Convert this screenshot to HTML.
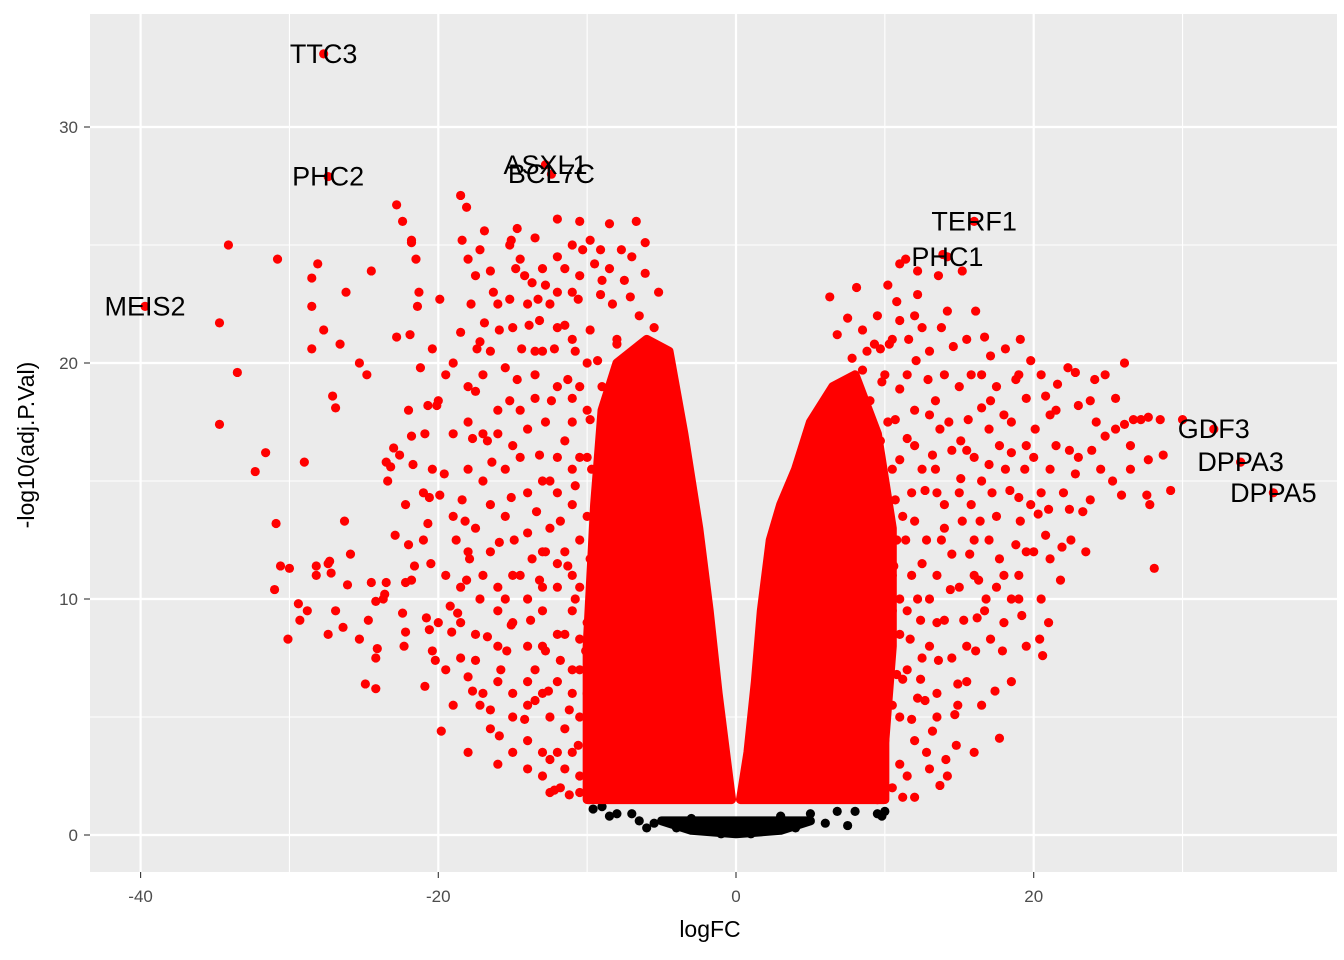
<!DOCTYPE html>
<html><head><meta charset="utf-8"><style>
body{margin:0;background:#fff}
svg{display:block;font-family:"Liberation Sans",Arial,sans-serif}
</style></head><body>
<svg id="chart" width="1344" height="960">
<rect x="90" y="14" width="1247" height="858" fill="#ebebeb"/>
<g id="grid"></g><g id="marks"></g><g id="labels"></g><g id="axes"></g>
<text x="710" y="937" text-anchor="middle" font-size="23" fill="#000">logFC</text>
<text transform="translate(34,445) rotate(-90)" text-anchor="middle" font-size="23" fill="#000">-log10(adj.P.Val)</text>
</svg>
<script>
const xTicks=[-40,-20,0,20];
const xMinor=[-30,-10,10,30];
const yTicks=[0,10,20,30];
const yMinor=[5,15,25];
const leftCoreX=[-0.3,-10,-10,-9.5,-9,-8,-6,-4.5,-3.5,-2.5,-1.8,-1.2,-0.7];
const leftCoreY=[1.5,1.5,8,14,18,20,21,20.5,17,13,9.5,6,3.5];
const rightCoreX=[0.3,0.8,1.3,1.7,2.3,3,4,5,6.5,8,9.5,10.5,10.5,10,10];
const rightCoreY=[1.5,3.5,6.5,9.5,12.5,14,15.5,17.5,19,19.5,17,13,8,4,1.5];
const nsCoreX=[-5,5,3,0,-3];
const nsCoreY=[0.6,0.6,0.2,0.05,0.2];
const nsPoints=[[-9.6,1.1],[-8.5,0.8],[-8,0.9],[-6.5,0.6],[-6,0.3],[-5.5,0.5],[6,0.5],[7.5,0.4],[9.5,0.9],[10,1.0],[9.8,0.8],[8,1.0],[-4,0.3],[4,0.3],[-1,0.05],[1,0.05],[-7,0.9],[-3,0.7],[3,0.8],[5,0.9],[-2,0.4],[2,0.3],[6.8,1.0],[-9,1.2]];
const sigLeft=[[-34.1,25.0],[-30.8,24.4],[-34.7,21.7],[-33.5,19.6],[-34.7,17.4],[-31.6,16.2],[-32.3,15.4],[-30.9,13.2],[-31.0,10.4],[-30.6,11.4],[-30.0,11.3],[-29.4,9.8],[-30.1,8.3],[-29.3,9.1],[-28.8,9.5],[-29.0,15.8],[-28.5,20.6],[-28.5,23.6],[-28.1,24.2],[-28.5,22.4],[-27.7,21.4],[-27.1,18.6],[-26.9,18.1],[-26.6,20.8],[-26.2,23.0],[-27.4,11.5],[-28.2,11.0],[-28.2,11.4],[-27.2,11.1],[-27.3,11.6],[-26.9,9.5],[-27.4,8.5],[-26.4,8.8],[-26.1,10.6],[-25.9,11.9],[-26.3,13.3],[-25.3,20.0],[-24.8,19.5],[-25.3,8.3],[-24.9,6.4],[-24.2,6.2],[-24.2,7.5],[-24.1,7.9],[-24.7,9.1],[-24.5,10.7],[-24.2,9.9],[-23.6,10.2],[-23.7,10.0],[-23.5,10.7],[-24.5,23.9],[-22.8,26.7],[-22.4,26.0],[-21.8,25.2],[-21.8,25.1],[-21.5,24.4],[-21.3,23.0],[-21.4,22.4],[-21.9,21.2],[-22.8,21.1],[-23.0,16.4],[-23.2,15.6],[-23.5,15.8],[-23.4,15.0],[-22.6,16.1],[-22.9,12.7],[-22.0,12.3],[-21.8,16.9],[-21.7,15.7],[-22.2,14.0],[-22.2,10.7],[-21.8,10.8],[-22.4,9.4],[-22.2,8.6],[-22.3,8.0],[-21.6,11.4],[-20.9,6.3],[-20.8,9.2],[-20.6,8.7],[-20.4,7.8],[-20.2,7.4],[-20.7,13.2],[-20.6,14.3],[-20.4,15.5],[-19.9,14.4],[-19.6,15.3],[-20.0,18.4],[-20.9,17.0],[-20.7,18.2],[-20.4,20.6],[-21.2,19.8],[-19.9,22.7],[-20.1,18.2],[-19.8,4.4],[-19.1,8.6],[-19.2,9.7],[-18.7,9.4],[-18.8,12.5],[-18.2,13.3],[-18.4,14.2],[-17.9,11.7],[-17.7,16.8],[-18.5,21.3],[-18.4,25.2],[-18.1,26.6],[-18.5,27.1],[-18.0,24.4],[-17.2,24.8],[-17.5,23.7],[-16.9,25.6],[-16.5,23.9],[-16.3,23.0],[-16.9,21.7],[-17.4,20.6],[-17.2,20.9],[-17.5,18.8],[-16.7,16.7],[-16.4,15.8],[-18.1,10.8],[-17.2,10.0],[-16.7,8.4],[-17.5,7.4],[-17.7,6.1],[-17.2,5.5],[-16.5,5.3],[-18.0,6.7],[-16.0,3.0],[-15.9,4.2],[-15.8,7.0],[-15.4,7.8],[-15.5,10.0],[-15.1,8.9],[-14.9,12.5],[-15.9,12.4],[-15.1,14.3],[-15.2,18.4],[-15.5,19.8],[-15.9,21.4],[-15.2,22.7],[-15.1,25.2],[-15.2,25.0],[-14.7,25.7],[-14.5,24.4],[-14.2,23.7],[-13.7,23.4],[-13.3,22.7],[-12.8,23.3],[-13.2,21.8],[-13.9,21.6],[-14.4,20.6],[-14.7,19.3],[-14.0,17.2],[-13.2,16.1],[-12.5,15.0],[-13.4,13.7],[-13.7,11.7],[-13.2,10.8],[-13.8,9.1],[-12.8,7.8],[-12.6,6.1],[-13.5,5.7],[-14.2,4.9],[-12.5,3.2],[-12.2,1.9],[-11.5,2.8],[-11.2,1.7],[-10.6,3.8],[-11.2,5.3],[-11.8,7.4],[-10.5,8.3],[-10.8,10.0],[-11.3,11.4],[-11.8,13.3],[-10.8,14.8],[-11.5,16.7],[-12.4,18.4],[-11.3,19.3],[-12.2,20.6],[-11.5,21.6],[-10.6,22.7],[-10.5,23.7],[-10.3,24.8],[-12.0,26.1],[-11.0,25.0],[-9.8,25.2],[-9.5,24.2],[-9.1,22.9],[-8.3,22.5],[-7.1,22.8],[-5.2,23.0],[-6.1,23.8],[-6.7,26.0],[-6.1,25.1],[-8.5,25.9],[-9.1,24.8],[-7.7,24.8],[-9.8,21.4],[-9.3,20.1],[-9.8,17.6],[-9.7,15.5],[-9.3,13.3],[-9.8,11.7],[-9.5,10.0],[-10.1,7.8],[-9.8,6.1],[-9.1,4.9],[-9.3,3.8],[-8.8,2.8],[-9.8,2.3],
[-14.5,18],[-13.5,19.5],[-12.8,17.5],[-12,16],[-11,17.5],[-10.5,19],[-10,16],[-12.5,13],[-11.5,12],[-10.5,12.5],[-10,13.5],[-14,14.5],[-13,12],[-12,10.5],[-11,9.5],[-10,9],[-14.5,11],[-13,9.5],[-12,8.5],[-11,7],[-10,6],[-13.5,7],[-12.5,5],[-11.5,4.5],[-10.5,2.5],[-14,6.5],[-15,6],[-16,9.5],[-16.5,12],[-15.5,15.5],[-16,18],[-13.5,20.5],[-12,21.5],[-11,23],[-12.5,22.5],[-13.5,25.3],[-12,24.5],[-8,21],[-7.5,23.5],[-9,19],[-10.8,20.5],[-17.5,13],[-18,15.5],[-19,17],[-17,19.5],[-19.5,11],[-18.5,7.5],[-20.5,11.5],[-21,14.5],[-14,2.8],[-13,3.5],[-11.8,2],
[-19,20],[-18,19],[-16.5,20.5],[-15,21.5],[-14,22.5],[-13,24],[-12,23],[-11,21],[-10,20],[-13.5,18.5],[-12,19],[-11,18.5],[-16,17],[-15,16.5],[-14.5,16],[-13,15],[-12,14.5],[-11,14],[-10.5,16],[-17,15],[-19,13.5],[-18,12],[-17,11],[-16,10.5],[-15,11],[-14,10],[-13,10.5],[-12,11.5],[-11,11],[-10.5,10.5],[-16,8],[-15,9],[-14,8],[-13,8],[-11.5,8.5],[-10.5,7],[-17,6],[-16,6.5],[-15,5],[-14,5.5],[-13,6],[-12,6.5],[-11,6],[-10.5,5],[-15,3.5],[-13,2.5],[-12,3.5],[-11,3.5],[-10.5,1.8],[-19,5.5],[-18.5,10.5],[-20,9],[-21,12.5],[-22,18],[-19.5,19.5],[-18,17.5],[-17,17],[-17.8,22.5],[-16,22.5],[-14.8,24],[-13,20.5],[-11.5,24],[-10.5,26],[-9,23.5],[-8.5,24],[-7,24.5],[-6.5,22],[-5.5,21.5],[-8,20.8],[-10,18],[-11,15.5],[-12.8,12],[-14,12.8],[-15.5,13.5],[-16.5,14],[-18.5,9],[-17.5,8.5],[-19.5,7],[-16.5,4.5],[-14,4],[-12.5,1.8],[-18,3.5]];
const sigRight=[[6.3,22.8],[7.5,21.9],[8.1,23.2],[8.5,21.4],[9.3,20.8],[9.7,20.6],[10.3,20.8],[11.0,21.8],[10.2,23.3],[11.0,24.2],[11.4,24.4],[12.2,23.9],[13.9,24.6],[13.6,23.7],[14.2,22.2],[13.8,21.5],[15.2,23.9],[16.1,22.2],[16.7,21.1],[17.1,20.3],[18.1,20.6],[18.8,19.3],[19.1,21.0],[19.8,20.1],[20.8,18.6],[21.1,17.8],[21.6,19.1],[22.3,19.8],[22.8,19.6],[23.0,18.2],[23.9,16.3],[24.8,16.9],[25.5,17.2],[26.1,20.0],[26.1,17.4],[26.7,17.6],[27.2,17.6],[27.7,17.7],[28.5,17.6],[27.7,15.9],[26.5,15.5],[25.9,14.4],[25.3,15.0],[24.5,15.5],[23.8,14.2],[23.3,13.7],[22.8,15.3],[22.4,13.8],[21.9,12.2],[21.8,10.8],[21.1,11.7],[20.8,12.7],[20.3,13.6],[19.8,14.0],[19.1,13.3],[18.8,12.3],[18.5,10.0],[19.2,9.3],[20.4,8.3],[20.6,7.6],[17.9,7.8],[17.4,6.1],[17.1,8.3],[16.7,9.5],[16.3,10.8],[15.7,11.9],[15.2,13.3],[15.1,15.1],[15.1,16.7],[15.6,17.6],[16.5,18.1],[17.1,18.4],[17.7,16.5],[18.1,15.5],[18.4,14.6],[28.7,16.1],[29.2,14.6],[28.1,11.3],[27.6,14.4],[27.8,14.0],[30.0,17.6],[17.7,4.1],[14.9,5.5],[14.7,5.1],[14.1,3.2],[13.7,2.1],[13.2,4.4],[12.7,5.7],[12.4,6.6],[11.8,4.9],[11.2,6.6],[10.3,7.8],[10.0,9.1],[9.7,10.0],[10.6,11.4],[11.4,12.5],[12.0,13.3],[12.7,14.6],[13.2,16.1],[13.7,17.2],[13.4,18.4],[12.9,19.3],[12.1,20.1],[11.6,21.0],[11.0,18.9],[10.7,17.6],[9.7,16.7],[9.0,18.4],[8.5,19.7],[8.2,18.1],[7.7,16.1],[7.3,15.0],[8.3,14.6],[9.0,13.3],[9.7,12.5],[8.9,11.7],[9.3,10.4],[9.0,8.7],[8.3,7.4],[8.5,5.7],[9.3,4.7],[10.0,4.0],[9.7,3.2],[9.1,2.3],[11.2,1.6],[12.0,1.6],[9.5,1.5],[14.9,6.4],[16.1,7.8],[14.0,9.1],[14.4,10.4],[14.5,11.9],[14.0,14.0],[13.4,15.5],[12.0,16.5],[11.0,15.9],[10.7,14.2],[10.3,13.3],[11.0,10.0],[11.7,8.3],[12.4,9.1],[13.0,10.0],[13.6,7.4],[15.3,9.1],[16.4,13.3],[17.7,11.7],[19.4,15.5],[20.1,17.2],[21.1,15.5],[22.4,16.3],[23.8,18.4],[24.1,19.3],[24.8,19.5],
[10.5,11],[11.5,9.5],[12.5,11.5],[13,8],[10.5,15.5],[12,18],[9.8,19.2],[11.2,13.5],[13.8,12.5],[15,14.5],[16.5,15],[17.5,13.5],[16,11],[15.5,16.3],[17,17.2],[18.5,17.5],[19.5,16.5],[20,12],[19,11],[12.8,3.5],[11,3],[10.5,5.5],[6.8,21.2],[7.8,20.2],[10.8,22.6],[12.2,22.9],[14.6,20.7],[15.8,19.5],[9.2,17.3],[10,14],
[10,19.5],[11.5,19.5],[12.5,21.5],[13,20.5],[14,19.5],[15,19],[15.5,21],[16.5,19.5],[17.5,19],[18,17.8],[19.5,18.5],[20.5,19.5],[21.5,16.5],[22,14.5],[20.5,14.5],[19,14.3],[17.2,14.5],[16,16],[14.5,16.3],[13.5,14.5],[12.5,15.5],[11.5,16.8],[10.2,17.5],[11.8,14.5],[12.8,12.5],[13.5,11],[15,10.5],[16,12.5],[17,12.5],[18,11],[19.5,12],[20.5,10],[21,9],[19.5,8],[18,9],[16.8,10],[15.5,8],[14.5,7.5],[13.5,6],[12.5,7.5],[11.5,7],[11,8.5],[11.8,11],[10.8,12.5],[10.5,9.5],[11,5],[12,4],[13.5,5],[15.5,6.5],[16.5,5.5],[14.8,3.8],[13,2.8],[11.5,2.5],[10.5,2],[16,3.5],[18.5,6.5],[23,16],[24.2,17.5],[25.5,18.5],[26.5,16.5],[22.5,12.5],[23.5,12],[21,13.8],[18.5,16.2],[17,15.7],[14.3,17.5],[13,17.8],[12,22],[9.5,22],[8.8,20.5],[10.5,21],[14,13],[15.8,14],[17.5,10.5],[19,10],[13.5,9],[12.2,10],[10.8,6.8],[16.2,9.2],[14.2,2.5],[12.2,5.8],[20,16],[21.5,18],[19,19.5]];
const geneNames=["TTC3","PHC2","ASXL1","BCL7C","MEIS2","TERF1","PHC1","GDF3","DPPA3","DPPA5"];
const geneFC=[-27.7,-27.4,-12.8,-12.4,-39.7,16.0,14.2,32.1,33.9,36.1];
const geneP=[33.1,27.9,28.4,28.0,22.4,26.0,24.5,17.2,15.8,14.5];

const NS="http://www.w3.org/2000/svg";
const X=v=>736+v*14.885, Y=v=>835-v*23.6;
function mk(tag,parent,attrs){const e=document.createElementNS(NS,tag);for(const k in attrs)e.setAttribute(k,attrs[k]);parent.appendChild(e);return e;}
const grid=document.getElementById('grid'),marks=document.getElementById('marks'),labels=document.getElementById('labels'),axes=document.getElementById('axes');
xMinor.forEach(v=>{const l=mk('line',grid,{x1:X(v),x2:X(v),y1:14,y2:872,stroke:'#fff','stroke-width':1.1});

});
yMinor.forEach(v=>{const l=mk('line',grid,{x1:90,x2:1337,y1:Y(v),y2:Y(v),stroke:'#fff','stroke-width':1.1});

});
xTicks.forEach(v=>{const l=mk('line',grid,{x1:X(v),x2:X(v),y1:14,y2:872,stroke:'#fff','stroke-width':2.2});


const t=mk('line',axes,{x1:X(v),x2:X(v),y1:872,y2:878,stroke:'#333','stroke-width':1.1});


const s=mk('text',axes,{x:X(v),y:902,'text-anchor':'middle','font-size':17,fill:'#4d4d4d'});s.textContent=v;

});
yTicks.forEach(v=>{const l=mk('line',grid,{x1:90,x2:1337,y1:Y(v),y2:Y(v),stroke:'#fff','stroke-width':2.2});


const t=mk('line',axes,{x1:84,x2:90,y1:Y(v),y2:Y(v),stroke:'#333','stroke-width':1.1});


const s=mk('text',axes,{x:78,y:Y(v)+6,'text-anchor':'end','font-size':17,fill:'#4d4d4d'});s.textContent=v;

});
function poly(xs,ys,col,name){const pts=xs.map((v,i)=>X(v)+','+Y(ys[i])).join(' ');
const p=mk('polygon',marks,{points:pts,fill:col,stroke:col,'stroke-width':9,'stroke-linejoin':'round'});

}
poly(nsCoreX,nsCoreY,'#000','nonsignificant-density');
nsPoints.forEach(d=>{const c=mk('circle',marks,{cx:X(d[0]),cy:Y(d[1]),r:4.6,fill:'#000'});

});
poly(leftCoreX,leftCoreY,'#ff0000','down-regulated-density');
poly(rightCoreX,rightCoreY,'#ff0000','up-regulated-density');
sigLeft.concat(sigRight).forEach(d=>{const c=mk('circle',marks,{cx:X(d[0]),cy:Y(d[1]),r:4.6,fill:'#ff0000'});

});
geneNames.forEach((g,i)=>{const c=mk('circle',marks,{cx:X(geneFC[i]),cy:Y(geneP[i]),r:4.6,fill:'#ff0000'});


const t=mk('text',labels,{x:X(geneFC[i]),y:Y(geneP[i])+9,'text-anchor':'middle','font-size':27,fill:'#000'});t.textContent=g;

});
</script>
</body></html>
